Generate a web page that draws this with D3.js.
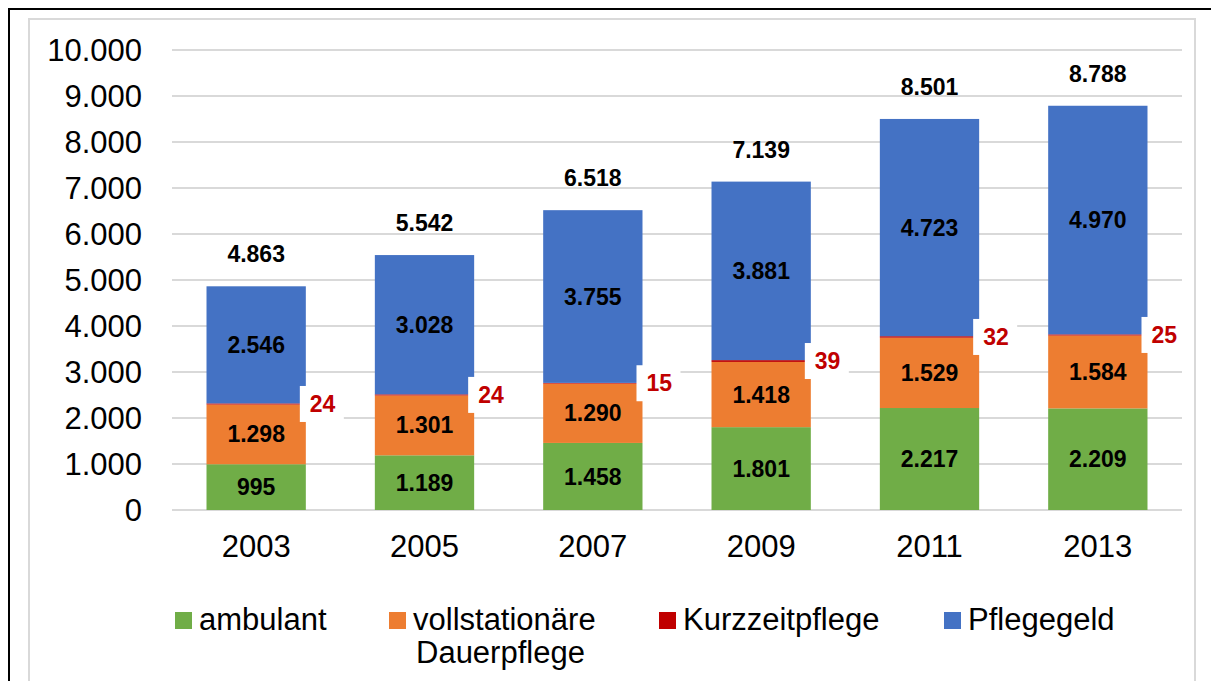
<!DOCTYPE html>
<html>
<head>
<meta charset="utf-8">
<script src="https://cdn.jsdelivr.net/npm/d3@7"></script>
<style>
  body { margin: 0; background: #fff; }
  svg { display: block; font-family: "Liberation Sans", Arial, sans-serif; }
</style>
</head>
<body>
<div id="chart"></div>
<script>
// data
var years = ["2003", "2005", "2007", "2009", "2011", "2013"];
var ambulant = [995, 1189, 1458, 1801, 2217, 2209];
var vollstationaer = [1298, 1301, 1290, 1418, 1529, 1584];
var kurzzeit = [24, 24, 15, 39, 32, 25];
var pflegegeld = [2546, 3028, 3755, 3881, 4723, 4970];
var yTicks = [0, 1000, 2000, 3000, 4000, 5000, 6000, 7000, 8000, 9000, 10000];

var seriesNames = ["ambulant", "vollstationäre|Dauerpflege", "Kurzzeitpflege", "Pflegegeld"];
var colors = ["#70AD47", "#ED7D31", "#C00000", "#4472C4"];

var W = 1211, H = 681;
var de = d3.formatLocale({decimal: ",", thousands: ".", grouping: [3], currency: ["", "€"]});
var fmt = de.format(",d");

var svg = d3.select("#chart").append("svg").attr("width", W).attr("height", H);

// frames
svg.append("rect").attr("x", 9).attr("y", 9).attr("width", W + 10).attr("height", H + 10)
    .style("fill", "none").style("stroke", "#000").style("stroke-width", 2);
svg.append("rect").attr("x", 29).attr("y", 19).attr("width", 1166).attr("height", H + 10)
    .style("fill", "none").style("stroke", "#d9d9d9").style("stroke-width", 2);

var x = d3.scaleBand().domain(years).range([172, 1182]).paddingInner(0.41).paddingOuter(0.205);
var y = d3.scaleLinear().domain([0, 10000]).range([510, 50]);

// grid
svg.selectAll(".grid").data(yTicks).enter().append("line").attr("class", "grid")
    .attr("x1", 172).attr("x2", 1182)
    .attr("y1", function (d) { return y(d); }).attr("y2", function (d) { return y(d); })
    .style("stroke", "#d9d9d9").style("stroke-width", 2);

// y axis labels
var yAxis = d3.axisLeft(y).tickValues(yTicks).tickFormat(fmt).tickSize(0).tickPadding(0);
var ya = svg.append("g").attr("transform", "translate(142,0)").call(yAxis);
ya.select(".domain").remove();
ya.selectAll("text").style("font-size", "31px").style("fill", "#000")
    .style("font-family", "'Liberation Sans', Arial, sans-serif").attr("dy", "0.35em");

// x axis labels
var xAxis = d3.axisBottom(x).tickSize(0).tickPadding(0);
var xa = svg.append("g").attr("transform", "translate(0,546)").call(xAxis);
xa.select(".domain").remove();
xa.selectAll("text").style("font-size", "31px").style("fill", "#000")
    .style("font-family", "'Liberation Sans', Arial, sans-serif").attr("dy", "0.35em").attr("y", 0);

// stacked data
var rows = years.map(function (yr, i) {
    return {year: yr, a: ambulant[i], v: vollstationaer[i], k: kurzzeit[i], p: pflegegeld[i]};
});
var stack = d3.stack().keys(["a", "v", "k", "p"])(rows);

var layers = svg.selectAll(".layer").data(stack).enter().append("g").attr("class", "layer")
    .style("fill", function (d, i) { return colors[i]; });
layers.selectAll("rect").data(function (d) { return d; }).enter().append("rect")
    .attr("x", function (d) { return x(d.data.year); })
    .attr("width", x.bandwidth())
    .attr("y", function (d) { return y(d[1]); })
    .attr("height", function (d) { return y(d[0]) - y(d[1]); });

// inner labels (ambulant, vollstationär, Pflegegeld)
[0, 1, 3].forEach(function (si) {
    svg.selectAll(".lbl" + si).data(stack[si]).enter().append("text")
        .attr("x", function (d) { return x(d.data.year) + x.bandwidth() / 2; })
        .attr("y", function (d) { return y((d[0] + d[1]) / 2); })
        .attr("dy", "0.35em").attr("text-anchor", "middle")
        .style("font-size", "23px").style("font-weight", "bold").style("fill", "#000")
        .text(function (d) { return fmt(d[1] - d[0]); });
});

// Kurzzeitpflege labels with white box to the right
var kg = svg.selectAll(".klbl").data(stack[2]).enter().append("g").attr("class", "klbl");
kg.append("rect")
    .attr("x", function (d) { return x(d.data.year) + x.bandwidth() - 6; })
    .attr("y", function (d) { return y((d[0] + d[1]) / 2) - 18; })
    .attr("width", 44).attr("height", 36).style("fill", "#fff");
kg.append("text")
    .attr("x", function (d) { return x(d.data.year) + x.bandwidth() + 4; })
    .attr("y", function (d) { return y((d[0] + d[1]) / 2); })
    .attr("dy", "0.35em")
    .style("font-size", "23px").style("font-weight", "bold").style("fill", "#C00000")
    .text(function (d) { return fmt(d[1] - d[0]); });

// totals
svg.selectAll(".tot").data(stack[3]).enter().append("text")
    .attr("x", function (d) { return x(d.data.year) + x.bandwidth() / 2; })
    .attr("y", function (d) { return y(d[1]) - 24; })
    .attr("text-anchor", "middle")
    .style("font-size", "23px").style("font-weight", "bold").style("fill", "#000")
    .text(function (d) { return fmt(d[1]); });

// legend
var legX = [175, 389, 659, 944];
var lg = svg.selectAll(".leg").data(seriesNames).enter().append("g").attr("class", "leg")
    .attr("transform", function (d, i) { return "translate(" + legX[i] + ",612)"; });
lg.append("rect").attr("width", 17).attr("height", 17)
    .style("fill", function (d, i) { return colors[i]; });
lg.append("text").attr("x", 24).attr("y", 18)
    .style("font-size", "31px").style("fill", "#000")
    .selectAll("tspan").data(function (d) { return d.split("|"); }).enter().append("tspan")
    .attr("x", function (d, i) { return i == 0 ? 24 : 27; })
    .attr("dy", function (d, i) { return i == 0 ? 0 : 33; })
    .text(function (d) { return d; });
</script>
</body>
</html>
